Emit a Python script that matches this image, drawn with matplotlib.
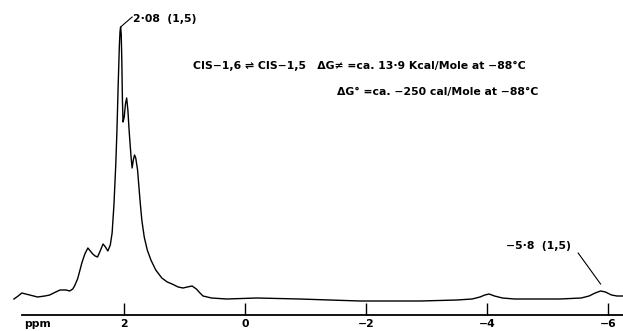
import matplotlib
matplotlib.use("Agg")
import matplotlib.pyplot as plt

# NMR trace (chemical shift in ppm, relative intensity)
ppm = [3.81, 3.74, 3.68, 3.55, 3.42, 3.30, 3.22, 3.12, 3.05, 2.95, 2.89, 2.84,
       2.81, 2.76, 2.72, 2.69, 2.64, 2.59, 2.55, 2.51, 2.47, 2.43, 2.38, 2.34,
       2.30, 2.26, 2.22, 2.19, 2.16, 2.13, 2.11, 2.09, 2.07, 2.06, 2.05, 2.04,
       2.03, 2.02, 2.01, 1.99, 1.97, 1.95, 1.93, 1.91, 1.88, 1.86, 1.84, 1.82,
       1.80, 1.77, 1.73, 1.70, 1.66, 1.61, 1.55, 1.47, 1.37, 1.28, 1.20, 1.10,
       1.02, 0.95, 0.87, 0.80, 0.74, 0.69, 0.55, 0.30, -0.20, -0.90, -1.90,
       -2.90, -3.50, -3.75, -3.88, -3.96, -4.03, -4.12, -4.25, -4.45, -5.20,
       -5.55, -5.68, -5.78, -5.87, -5.95, -6.05, -6.14, -6.24]
intensity = [1, 4, 7, 5, 3, 4, 5, 8, 10, 10, 9, 11,
             14, 21, 30, 37, 46, 52, 49, 46, 44, 43, 50, 56,
             53, 49, 55, 67, 95, 135, 170, 215, 255, 268, 273, 266,
             240, 200, 178, 183, 196, 202, 190, 170, 145, 132, 140, 145,
             142, 130, 100, 80, 63, 50, 40, 30, 22, 18, 16, 13,
             12, 13, 14, 11, 7, 4, 2, 1, 2, 1, -1,
             -1, 0, 1, 3, 5, 6, 4, 2, 1, 1,
             2, 4, 7, 9, 8, 5, 4, 4]

tick_vals = [2, 0, -2, -4, -6]
tick_labels = ["2", "0", "−2", "−4", "−6"]

peak_main = (2.05, 273)
peak_small = (-5.87, 9)

fig = plt.figure(figsize=(6.23, 3.31), dpi=100)
ax = fig.add_axes([0, 0, 1, 1])
ax.set_xlim(4.04, -6.24)
ax.set_ylim(-31, 300)
ax.axis("off")

ax.plot(ppm, intensity, color="black", lw=1.0, solid_joinstyle="round")

# baseline axis with upward ticks
ax_y = -15
ax.plot([3.68, -6.24], [ax_y, ax_y], color="black", lw=1.3)
ax.vlines(tick_vals, ax_y, ax_y + 12, color="black", lw=1.0)
font = dict(family="DejaVu Sans", fontweight="bold", fontsize=7.8)
for v, lab in zip(tick_vals, tick_labels):
    ax.text(v, ax_y - 9, lab, ha="center", va="center", **font)
ax.text(3.42, ax_y - 9, "ppm", ha="center", va="center", **font)

# peak annotations
ax.plot([peak_main[0], 1.86], [peak_main[1], 283], color="black", lw=0.8)
ax.text(1.84, 281, "2·08  (1,5)", ha="left", va="center", **font)
ax.plot([-5.5, -5.87], [47, 16], color="black", lw=0.8)
ax.text(-5.38, 54, "−5·8  (1,5)", ha="right", va="center", **font)

ax.text(0.85, 234, "CIS−1,6 ⇌ CIS−1,5   ΔG≠ =ca. 13·9 Kcal/Mole at −88°C",
        ha="left", va="center", **font)
ax.text(-1.52, 208, "ΔG° =ca. −250 cal/Mole at −88°C",
        ha="left", va="center", **font)

fig.savefig("out.png", dpi=100, facecolor="white")
